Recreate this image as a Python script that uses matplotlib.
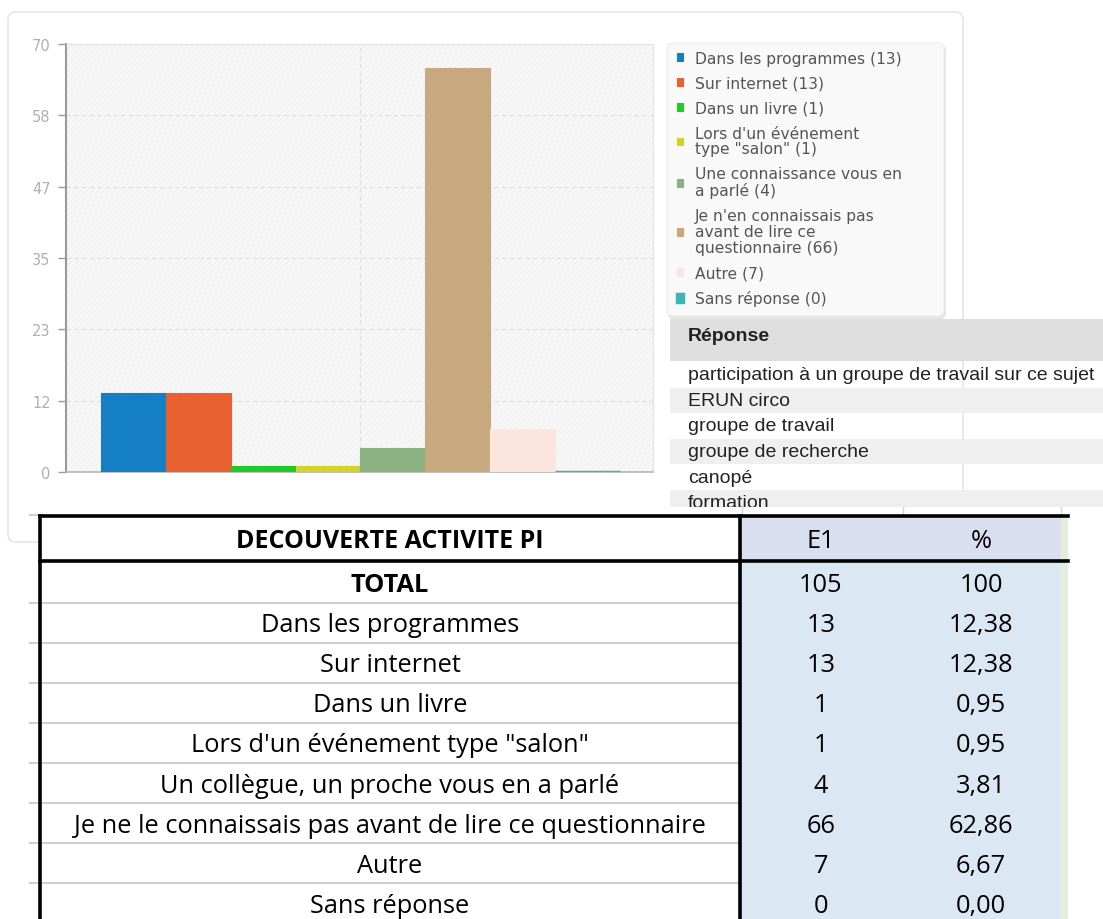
import matplotlib.pyplot as plt
import matplotlib.patches as mpatches
import numpy as np

# ---- data ----
counts = [13, 13, 1, 1, 4, 66, 7, 0]
legend_labels = ["Dans les programmes", "Sur internet", "Dans un livre",
                 "Lors d'un événement\ntype \"salon\"", "Une connaissance vous en\na parlé",
                 "Je n'en connaissais pas\navant de lire ce\nquestionnaire", "Autre", "Sans réponse"]
bar_colors = ["#157fc6", "#e8602f", "#22c928", "#d3d12a", "#8bb381", "#c8a97f", "#fbe5dd", "#3bb6b6"]
ytick_labels = ["0", "12", "23", "35", "47", "58", "70"]

reponse_header = "Réponse"
reponse_rows = ["participation à un groupe de travail sur ce sujet", "ERUN circo",
                "groupe de travail", "groupe de recherche", "canopé", "formation"]

table_title = "DECOUVERTE ACTIVITE PI"
table_cols = ["E1", "%"]
table_rows = ["TOTAL", "Dans les programmes", "Sur internet", "Dans un livre",
              "Lors d'un événement type \"salon\"", "Un collègue, un proche vous en a parlé",
              "Je ne le connaissais pas avant de lire ce questionnaire", "Autre", "Sans réponse"]
table_e1 = ["105", "13", "13", "1", "1", "4", "66", "7", "0"]
table_pct = ["100", "12,38", "12,38", "0,95", "0,95", "3,81", "62,86", "6,67", "0,00"]

W, H = 1103, 920
plt.rcParams["hatch.linewidth"] = 0.5

fig = plt.figure(figsize=(W / 100, H / 100), dpi=100)
fig.patch.set_facecolor("white")

# background layer in pixel coordinates
bg = fig.add_axes([0, 0, 1, 1], zorder=1)
bg.set_xlim(0, W)
bg.set_ylim(H, 0)
bg.axis("off")

# chart card
bg.add_patch(mpatches.FancyBboxPatch((8, 13), 955, 530, boxstyle="round,pad=0,rounding_size=8",
                                     facecolor="white", edgecolor="#e6e6e6", linewidth=1.2))
# legend card (shadow + box)
bg.add_patch(mpatches.FancyBboxPatch((668, 46), 278, 274, boxstyle="round,pad=0,rounding_size=6",
                                     facecolor="#e4e4e4", edgecolor="none"))
bg.add_patch(mpatches.FancyBboxPatch((667, 44), 277, 273, boxstyle="round,pad=0,rounding_size=6",
                                     facecolor="#f9f9f9", edgecolor="#ececec", linewidth=0.8))

# ---- bar chart ----
ax = fig.add_axes([66 / W, 1 - 473 / H, 587 / W, 428 / H], zorder=2)
x = np.arange(len(counts))
bars = ax.bar(x, counts, width=1.0, color=bar_colors, edgecolor=bar_colors,
              linewidth=0.8, zorder=3)
bars[-1].set_linewidth(2.5)
ax.set_xlim(-1.04, 8.01)
ax.set_ylim(0, 70)
ax.set_yticks(np.arange(7) * 70 / 6)
ax.set_yticklabels(ytick_labels)
ax.set_xticks([3.5])
ax.set_xticklabels([])
ax.tick_params(axis="x", length=0)
ax.tick_params(axis="y", direction="out", length=6, width=1, color="#9a9a9a",
               labelcolor="#b0b0b0", labelsize=10.5, pad=5)
ax.patch.set_facecolor("#f7f7f7")
ax.patch.set_hatch("//////")
ax.patch.set_edgecolor("#ececec")
ax.grid(True, color="#dddddd", linestyle=(0, (4, 3)), linewidth=0.8, zorder=1)
for s in ["top", "right"]:
    ax.spines[s].set_color("#e2e2e2")
ax.spines["left"].set_color("#9a9a9a")
ax.spines["left"].set_linewidth(1.5)
ax.spines["bottom"].set_color("#b5b5b5")
ax.spines["bottom"].set_linewidth(1.2)

labels = [f"{lab} ({c})" for lab, c in zip(legend_labels, counts)]
leg = ax.legend(bars, labels, loc="upper left", bbox_to_anchor=(672 / W, 1 - 47 / H),
                bbox_transform=fig.transFigure, frameon=False,
                fontsize=11.2, labelcolor="#555555", handlelength=0.4, handleheight=0.4,
                handletextpad=0.75, labelspacing=0.64, borderpad=0.3, borderaxespad=0)
for t in leg.get_texts():
    t.set_linespacing(1.08)

# ---- "Réponse" table on the right ----
bg.add_patch(mpatches.Rectangle((670, 320), W - 670, 42, facecolor="#dedede", edgecolor="none"))
bg.text(688, 337, reponse_header, fontsize=14, fontweight="bold", color="#222222",
        family="Liberation Sans", va="center", ha="left")
row_h = 25.6
for i, txt in enumerate(reponse_rows):
    top = 363 + i * row_h
    if i % 2 == 1:
        h = min(row_h, 508 - top)
        bg.add_patch(mpatches.Rectangle((670, top), W - 670, h, facecolor="#efefef", edgecolor="none"))
    bg.text(688, top + row_h / 2, txt, fontsize=14, color="#222222", family="Liberation Sans",
            va="center", ha="left", clip_on=True)
# white strip between the two screenshots
bg.add_patch(mpatches.Rectangle((660, 508), W - 660, 9, facecolor="white", edgecolor="none", zorder=3))
for gx in [742, 903, 1061]:
    bg.plot([gx, gx], [508, 517], color="#d4d4d4", linewidth=1, zorder=4)

# ---- excel table ----
left, mid, fill_r, right = 40, 740, 1061, 1068
top, head_b = 517, 562
rh = 40.1
body_top = head_b + 1.5
bg.add_patch(mpatches.Rectangle((left, top), right - left, H - top, facecolor="white",
                                edgecolor="none", zorder=3))
bg.add_patch(mpatches.Rectangle((mid, top), fill_r - mid, head_b - top, facecolor="#d9dff0",
                                edgecolor="none", zorder=3))
bg.add_patch(mpatches.Rectangle((mid, head_b), fill_r - mid, H - head_b, facecolor="#dce7f4",
                                edgecolor="none", zorder=3))
bg.add_patch(mpatches.Rectangle((fill_r, top), right - fill_r, H - top, facecolor="#e3eedb",
                                edgecolor="none", zorder=3))
for k in range(1, len(table_rows)):
    yy = body_top + k * rh
    bg.plot([30, mid], [yy, yy], color="#d0d0d0", linewidth=1.5, zorder=4)
bg.plot([30, left], [top - 1, top - 1], color="#d0d0d0", linewidth=1.5, zorder=4)
bg.plot([left, right], [top, top], color="black", linewidth=2.6, zorder=5)
bg.plot([left, right], [head_b, head_b], color="black", linewidth=2.6, zorder=5)
bg.plot([left, left], [top, H], color="black", linewidth=2.6, zorder=5)
bg.plot([mid, mid], [top, H], color="black", linewidth=2.6, zorder=5)

cx0, cx1, cx2 = 390, 821, 981
fs = 18.3
tfont = "Open Sans"
dy = 2.0
bg.text(cx0, (top + head_b) / 2 + dy, table_title, fontsize=18, fontweight="bold",
        family=tfont, ha="center", va="center", zorder=6)
bg.text(cx1, (top + head_b) / 2 + dy, table_cols[0], fontsize=fs, family=tfont, ha="center",
        va="center", zorder=6)
bg.text(cx2, (top + head_b) / 2 + dy, table_cols[1], fontsize=fs, family=tfont, ha="center",
        va="center", zorder=6)
for k, (name, e1, pct) in enumerate(zip(table_rows, table_e1, table_pct)):
    yc = body_top + k * rh + rh / 2 + dy
    bg.text(cx0, yc, name, fontsize=fs, family=tfont, ha="center", va="center",
            fontweight="bold" if k == 0 else "normal", zorder=6)
    bg.text(cx1, yc, e1, fontsize=fs, family=tfont, ha="center", va="center", zorder=6)
    bg.text(cx2, yc, pct, fontsize=fs, family=tfont, ha="center", va="center", zorder=6)

fig.savefig("out.png", dpi=100)
